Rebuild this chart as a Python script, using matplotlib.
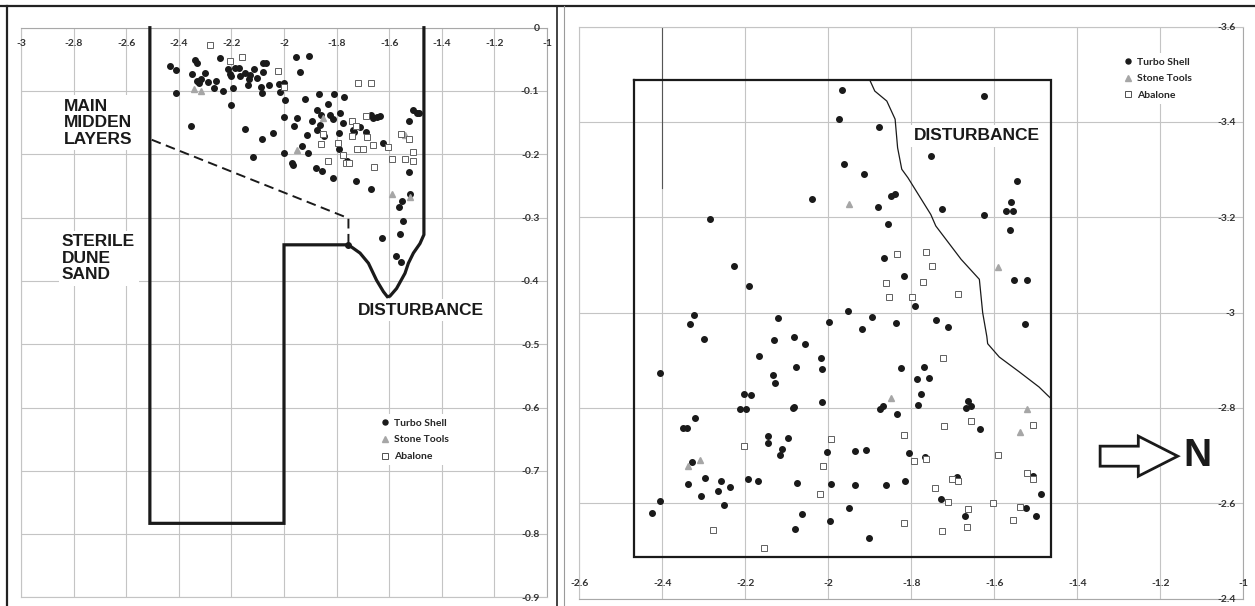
import matplotlib.pyplot as plt
from matplotlib.lines import Line2D
from matplotlib.patches import Polygon

# ---------------- left panel: profile (x, depth) ----------------
prof_turbo_x = [-2.432, -2.409, -2.340, -2.330, -2.242, -2.349, -2.301, -2.330, -2.314, -2.288,
                -2.324, -2.267, -2.258, -2.409, -2.231, -2.214, -2.206, -2.187, -2.172, -2.200,
                -2.169, -2.147, -2.128, -2.115, -2.134, -2.102, -2.136, -2.195, -2.079, -2.070,
                -2.079, -2.088, -2.083, -2.058, -2.020, -2.001, -2.017, -1.954, -1.906, -1.940,
                -1.998, -1.921, -1.868, -1.808, -1.773, -2.200, -2.353, -2.150, -2.082, -2.043,
                -2.119, -2.000, -1.952, -1.961, -1.914, -1.933, -2.000, -1.907, -1.873, -1.831,
                -1.787, -1.859, -1.825, -1.892, -1.863, -1.812, -1.876, -1.848, -1.790, -1.774,
                -1.739, -1.734, -1.711, -1.688, -1.670, -1.663, -1.648, -1.635, -1.790, -1.762,
                -1.971, -1.965, -1.878, -1.854, -1.812, -1.726, -1.669, -1.625, -1.525, -1.508,
                -1.493, -1.485, -1.525, -1.521, -1.553, -1.563, -1.546, -1.559, -1.626, -1.574,
                -1.555, -1.755]
prof_turbo_y = [-0.061, -0.067, -0.051, -0.055, -0.048, -0.073, -0.071, -0.084, -0.081, -0.085,
                -0.088, -0.096, -0.084, -0.103, -0.100, -0.066, -0.073, -0.064, -0.063, -0.077,
                -0.076, -0.072, -0.075, -0.066, -0.081, -0.079, -0.091, -0.096, -0.056, -0.055,
                -0.070, -0.093, -0.103, -0.091, -0.089, -0.087, -0.101, -0.046, -0.045, -0.070,
                -0.115, -0.112, -0.105, -0.105, -0.109, -0.122, -0.155, -0.160, -0.176, -0.166,
                -0.204, -0.141, -0.142, -0.156, -0.170, -0.187, -0.198, -0.198, -0.130, -0.121,
                -0.134, -0.138, -0.138, -0.148, -0.154, -0.145, -0.162, -0.171, -0.167, -0.150,
                -0.161, -0.164, -0.157, -0.164, -0.138, -0.143, -0.141, -0.139, -0.192, -0.210,
                -0.213, -0.217, -0.222, -0.226, -0.238, -0.242, -0.255, -0.182, -0.148, -0.130,
                -0.135, -0.134, -0.228, -0.262, -0.274, -0.284, -0.305, -0.326, -0.332, -0.360,
                -0.370, -0.343]
prof_stone_x = [-2.343, -2.314, -1.850, -1.949, -1.540, -1.591, -1.521]
prof_stone_y = [-0.097, -0.100, -0.143, -0.193, -0.170, -0.262, -0.267]
prof_abalone_x = [-2.283, -2.206, -2.159, -2.022, -2.001, -1.718, -1.669, -1.688, -1.743, -1.726,
                  -1.850, -1.743, -1.686, -1.861, -1.793, -1.721, -1.701, -1.663, -1.603, -1.774,
                  -1.831, -1.766, -1.753, -1.658, -1.591, -1.555, -1.523, -1.508, -1.540, -1.508]
prof_abalone_y = [-0.027, -0.053, -0.047, -0.068, -0.093, -0.087, -0.087, -0.139, -0.148, -0.156,
                  -0.168, -0.171, -0.172, -0.183, -0.182, -0.192, -0.192, -0.185, -0.189, -0.201,
                  -0.211, -0.214, -0.213, -0.220, -0.207, -0.168, -0.176, -0.196, -0.208, -0.210]

# excavation outline and layer boundary (profile)
unit_x = [-2.51, -2.51, -2.0, -2.0, -1.755, -1.711, -1.679, -1.648, -1.622, -1.607, -1.597,
          -1.572, -1.540, -1.527, -1.508, -1.483, -1.468, -1.468]
unit_y = [0.0, -0.783, -0.783, -0.343, -0.343, -0.356, -0.372, -0.399, -0.417, -0.425, -0.424,
          -0.412, -0.388, -0.372, -0.356, -0.341, -0.327, 0.0]
layer_x = [-2.503, -1.755, -1.755]
layer_y = [-0.177, -0.301, -0.343]

# ---------------- right panel: plan (x, y) ----------------
plan_turbo_x = [-1.966, -1.974, -1.879, -1.961, -1.913, -1.849, -1.839, -2.039, -1.880, -1.857,
                -2.285, -1.865, -1.817, -2.227, -2.192, -2.324, -2.334, -2.120, -1.998, -1.953,
                -1.894, -1.838, -1.918, -1.625, -1.753, -1.546, -1.726, -1.625, -1.560, -1.572,
                -1.554, -1.563, -1.553, -1.520, -1.790, -1.741, -1.712, -1.525, -2.300, -2.131,
                -2.083, -2.057, -2.167, -2.018, -2.078, -2.014, -1.826, -2.405, -2.133, -2.129,
                -2.203, -2.187, -2.014, -2.213, -2.198, -2.086, -2.082, -1.876, -1.867, -1.835,
                -2.320, -2.349, -2.341, -2.146, -2.145, -2.098, -2.112, -2.116, -2.002, -1.935,
                -1.908, -1.806, -2.329, -2.296, -2.337, -2.259, -2.237, -2.266, -2.307, -2.252,
                -2.194, -2.170, -2.076, -1.994, -1.936, -1.862, -1.815, -2.405, -2.424, -2.064,
                -2.080, -1.997, -1.951, -1.901, -1.770, -1.786, -1.758, -1.777, -1.785, -1.664,
                -1.668, -1.655, -1.635, -1.766, -1.690, -1.729, -1.671, -1.507, -1.488, -1.524,
                -1.500]
plan_turbo_y = [-3.467, -3.406, -3.390, -3.313, -3.292, -3.244, -3.248, -3.238, -3.222, -3.187,
                -3.197, -3.115, -3.076, -3.097, -3.056, -2.995, -2.977, -2.989, -2.980, -3.004,
                -2.990, -2.979, -2.965, -3.455, -3.328, -3.277, -3.218, -3.205, -3.232, -3.213,
                -3.213, -3.174, -3.069, -3.069, -3.015, -2.985, -2.971, -2.976, -2.945, -2.942,
                -2.948, -2.934, -2.910, -2.904, -2.887, -2.881, -2.885, -2.873, -2.869, -2.852,
                -2.829, -2.828, -2.812, -2.799, -2.799, -2.801, -2.802, -2.797, -2.805, -2.788,
                -2.779, -2.758, -2.758, -2.742, -2.726, -2.738, -2.715, -2.701, -2.708, -2.709,
                -2.711, -2.705, -2.687, -2.654, -2.641, -2.646, -2.634, -2.625, -2.615, -2.596,
                -2.651, -2.646, -2.643, -2.641, -2.638, -2.638, -2.647, -2.604, -2.580, -2.578,
                -2.546, -2.562, -2.591, -2.527, -2.886, -2.860, -2.863, -2.829, -2.807, -2.815,
                -2.801, -2.804, -2.755, -2.697, -2.655, -2.609, -2.573, -2.657, -2.620, -2.590,
                -2.574]
plan_stone_x = [-1.951, -1.590, -1.849, -2.337, -2.310, -1.522, -1.537]
plan_stone_y = [-3.229, -3.095, -2.822, -2.679, -2.690, -2.799, -2.750]
plan_abalone_x = [-1.834, -1.861, -1.853, -1.765, -1.751, -1.773, -1.798, -1.687, -2.203, -1.994,
                  -2.013, -2.019, -1.817, -1.818, -2.279, -2.154, -1.724, -1.720, -1.655, -1.506,
                  -1.590, -1.793, -1.765, -1.702, -1.688, -1.743, -1.712, -1.663, -1.602, -1.665,
                  -1.726, -1.554, -1.537, -1.521, -1.506]
plan_abalone_y = [-3.124, -3.062, -3.033, -3.127, -3.098, -3.064, -3.032, -3.040, -2.721, -2.734,
                  -2.679, -2.620, -2.744, -2.559, -2.544, -2.507, -2.906, -2.763, -2.772, -2.765,
                  -2.702, -2.688, -2.694, -2.652, -2.647, -2.632, -2.603, -2.589, -2.601, -2.551,
                  -2.541, -2.565, -2.592, -2.664, -2.651]

# unit boundary and disturbance edge (plan)
box_x = [-2.467, -1.4635, -1.4635, -2.467, -2.467]
box_y = [-3.488, -3.488, -2.487, -2.487, -3.488]
dist_x = [-1.900, -1.888, -1.859, -1.839, -1.833, -1.823, -1.808, -1.753, -1.741, -1.680,
          -1.636, -1.628, -1.618, -1.616, -1.588, -1.540, -1.492, -1.472, -1.4635]
dist_y = [-3.488, -3.465, -3.444, -3.406, -3.346, -3.301, -3.283, -3.206, -3.182, -3.112,
          -3.070, -3.000, -2.950, -2.935, -2.907, -2.876, -2.844, -2.827, -2.820]

prof_xticks = [-3, -2.8, -2.6, -2.4, -2.2, -2, -1.8, -1.6, -1.4, -1.2, -1]
prof_yticks = [0, -0.1, -0.2, -0.3, -0.4, -0.5, -0.6, -0.7, -0.8, -0.9]
plan_xticks = [-2.6, -2.4, -2.2, -2, -1.8, -1.6, -1.4, -1.2, -1]
plan_yticks = [-3.6, -3.4, -3.2, -3, -2.8, -2.6, -2.4]

series_names = ['Turbo Shell', 'Stone Tools', 'Abalone']

# ---------------- drawing ----------------
W, H = 1255, 606
fig = plt.figure(figsize=(W / 100, H / 100), dpi=100)
fig.patch.set_facecolor('white')

TICK_FONT = dict(family=['Lato', 'DejaVu Sans'], size=7.5, weight='bold', color='#333333')
BIG_FONT = dict(family=['Liberation Sans', 'DejaVu Sans'], size=12.5, weight='bold', color='#1a1a1a')
GRID = '#c4c4c4'


def lab(v):
    return f'{v:g}'


def style_axes(ax):
    ax.grid(True, color=GRID, lw=0.8)
    ax.set_axisbelow(True)
    for s in ax.spines.values():
        s.set_color(GRID)
        s.set_linewidth(0.8)
    ax.tick_params(which='both', labelleft=False, labelbottom=False, labeltop=False,
                   labelright=False, length=0)


def draw_points(ax, tx, ty, sx, sy, ax_, ay_):
    ax.plot(tx, ty, 'o', ms=4.0, color='#1a1a1a', mec='#1a1a1a', ls='none', zorder=4)
    ax.plot(sx, sy, '^', ms=4.6, color='#a6a6a6', mec='#a6a6a6', ls='none', zorder=5)
    ax.plot(ax_, ay_, 's', ms=4.2, mfc='white', mec='#606060', mew=0.7, ls='none', zorder=6)


def add_legend(ax, x, y):
    handles = [
        Line2D([], [], marker='o', ls='none', ms=3.6, color='#1a1a1a'),
        Line2D([], [], marker='^', ls='none', ms=4.0, color='#a6a6a6'),
        Line2D([], [], marker='s', ls='none', ms=4.0, mfc='white', mec='#505050', mew=0.7),
    ]
    leg = ax.legend(handles, series_names, loc='center left', bbox_to_anchor=(x, y),
                    bbox_transform=ax.transData, frameon=True, facecolor='white',
                    edgecolor='none', framealpha=1, fancybox=False, borderpad=0.4,
                    borderaxespad=0, handlelength=0.8, handletextpad=0.45, labelspacing=0.72,
                    prop=dict(family=['Lato', 'DejaVu Sans'], size=7.5, weight='bold'))
    for t in leg.get_texts():
        t.set_color('#262626')
    leg.set_zorder(7)


# left panel
ax1 = fig.add_axes([21 / W, (H - 597.4) / H, 526 / W, (597.4 - 27.7) / H])
ax1.set_xlim(-3, -1)
ax1.set_ylim(-0.9, 0)
ax1.set_xticks(prof_xticks)
ax1.set_yticks(prof_yticks)
style_axes(ax1)
ax1.spines['top'].set_color('#a8a8a8')
ax1.spines['right'].set_color('#a8a8a8')

ax1.plot(unit_x, unit_y, color='#1a1a1a', lw=2.3, solid_joinstyle='miter', clip_on=False, zorder=3)
ax1.plot(layer_x, layer_y, color='#1a1a1a', lw=1.4, dashes=(5, 2.8), zorder=3)
draw_points(ax1, prof_turbo_x, prof_turbo_y, prof_stone_x, prof_stone_y,
            prof_abalone_x, prof_abalone_y)

for v in prof_xticks:
    ax1.annotate(lab(v), (v, 0), xytext=(0, -11.2), textcoords='offset points',
                 ha='center', va='center', annotation_clip=False, **TICK_FONT)
for v in prof_yticks:
    ax1.annotate(lab(v), (-1, v), xytext=(-5.5, -0.6), textcoords='offset points',
                 ha='right', va='center', annotation_clip=False, **TICK_FONT)

box_bg = dict(facecolor='white', edgecolor='none', pad=2.5)
ax1.text(-2.836, -0.150, 'MAIN\nMIDDEN\nLAYERS', ha='left', va='center', linespacing=1.12,
         bbox=box_bg, zorder=5, **BIG_FONT)
ax1.text(-2.844, -0.364, 'STERILE\nDUNE\nSAND', ha='left', va='center', linespacing=1.12,
         bbox=box_bg, zorder=5, **BIG_FONT)
ax1.text(-1.48, -0.446, 'DISTURBANCE', ha='center', va='center', bbox=box_bg, zorder=5,
         **BIG_FONT)
add_legend(ax1, -1.648, -0.651)

# right panel
ax2 = fig.add_axes([579.3 / W, (H - 598.7) / H, 664 / W, (598.7 - 26.7) / H])
ax2.set_xlim(-2.6, -1)
ax2.set_ylim(-2.4, -3.6)
ax2.set_xticks(plan_xticks)
ax2.set_yticks(plan_yticks)
style_axes(ax2)
ax2.spines['bottom'].set_color('#a8a8a8')
ax2.spines['right'].set_color('#a8a8a8')

ax2.plot([-2.4, -2.4], [-3.6, -3.262], color='#555555', lw=0.8, zorder=2)
ax2.plot(box_x, box_y, color='#1a1a1a', lw=1.6, solid_joinstyle='miter', zorder=3)
ax2.plot(dist_x, dist_y, color='#1a1a1a', lw=0.9, zorder=3)
draw_points(ax2, plan_turbo_x, plan_turbo_y, plan_stone_x, plan_stone_y,
            plan_abalone_x, plan_abalone_y)

for v in plan_xticks:
    ax2.annotate(lab(v), (v, -2.4), xytext=(0, 11.3), textcoords='offset points',
                 ha='center', va='center', annotation_clip=False, **TICK_FONT)
for v in plan_yticks:
    ax2.annotate(lab(v), (-1, v), xytext=(-5.5, -0.6), textcoords='offset points',
                 ha='right', va='center', annotation_clip=False, **TICK_FONT)

ax2.text(-1.642, -3.371, 'DISTURBANCE', ha='center', va='center', bbox=box_bg, zorder=5,
         **BIG_FONT)
add_legend(ax2, -1.297, -3.491)

# north arrow
arrow = Polygon([(-1.345, -2.720), (-1.253, -2.720), (-1.253, -2.741), (-1.158, -2.699),
                 (-1.253, -2.657), (-1.253, -2.678), (-1.345, -2.678)],
                closed=True, facecolor='white', edgecolor='#1a1a1a', lw=2.0,
                joinstyle='miter', zorder=5)
ax2.add_patch(arrow)
ax2.text(-1.145, -2.699, 'N', ha='left', va='center', zorder=5,
         **dict(BIG_FONT, size=28))

# page frame
def fig_line(x0, y0, x1, y1, **kw):
    fig.add_artist(Line2D([x0 / W, x1 / W], [1 - y0 / H, 1 - y1 / H],
                          transform=fig.transFigure, **kw))


fig_line(0, 6, W, 6, color='#222222', lw=1.6)
fig_line(7, 6, 7, H, color='#222222', lw=1.6)
fig_line(557, 6, 557, H, color='#222222', lw=1.2)
fig_line(564, 6, 564, H, color='#9a9a9a', lw=0.8)

fig.savefig('out.png', dpi=100, facecolor='white')
